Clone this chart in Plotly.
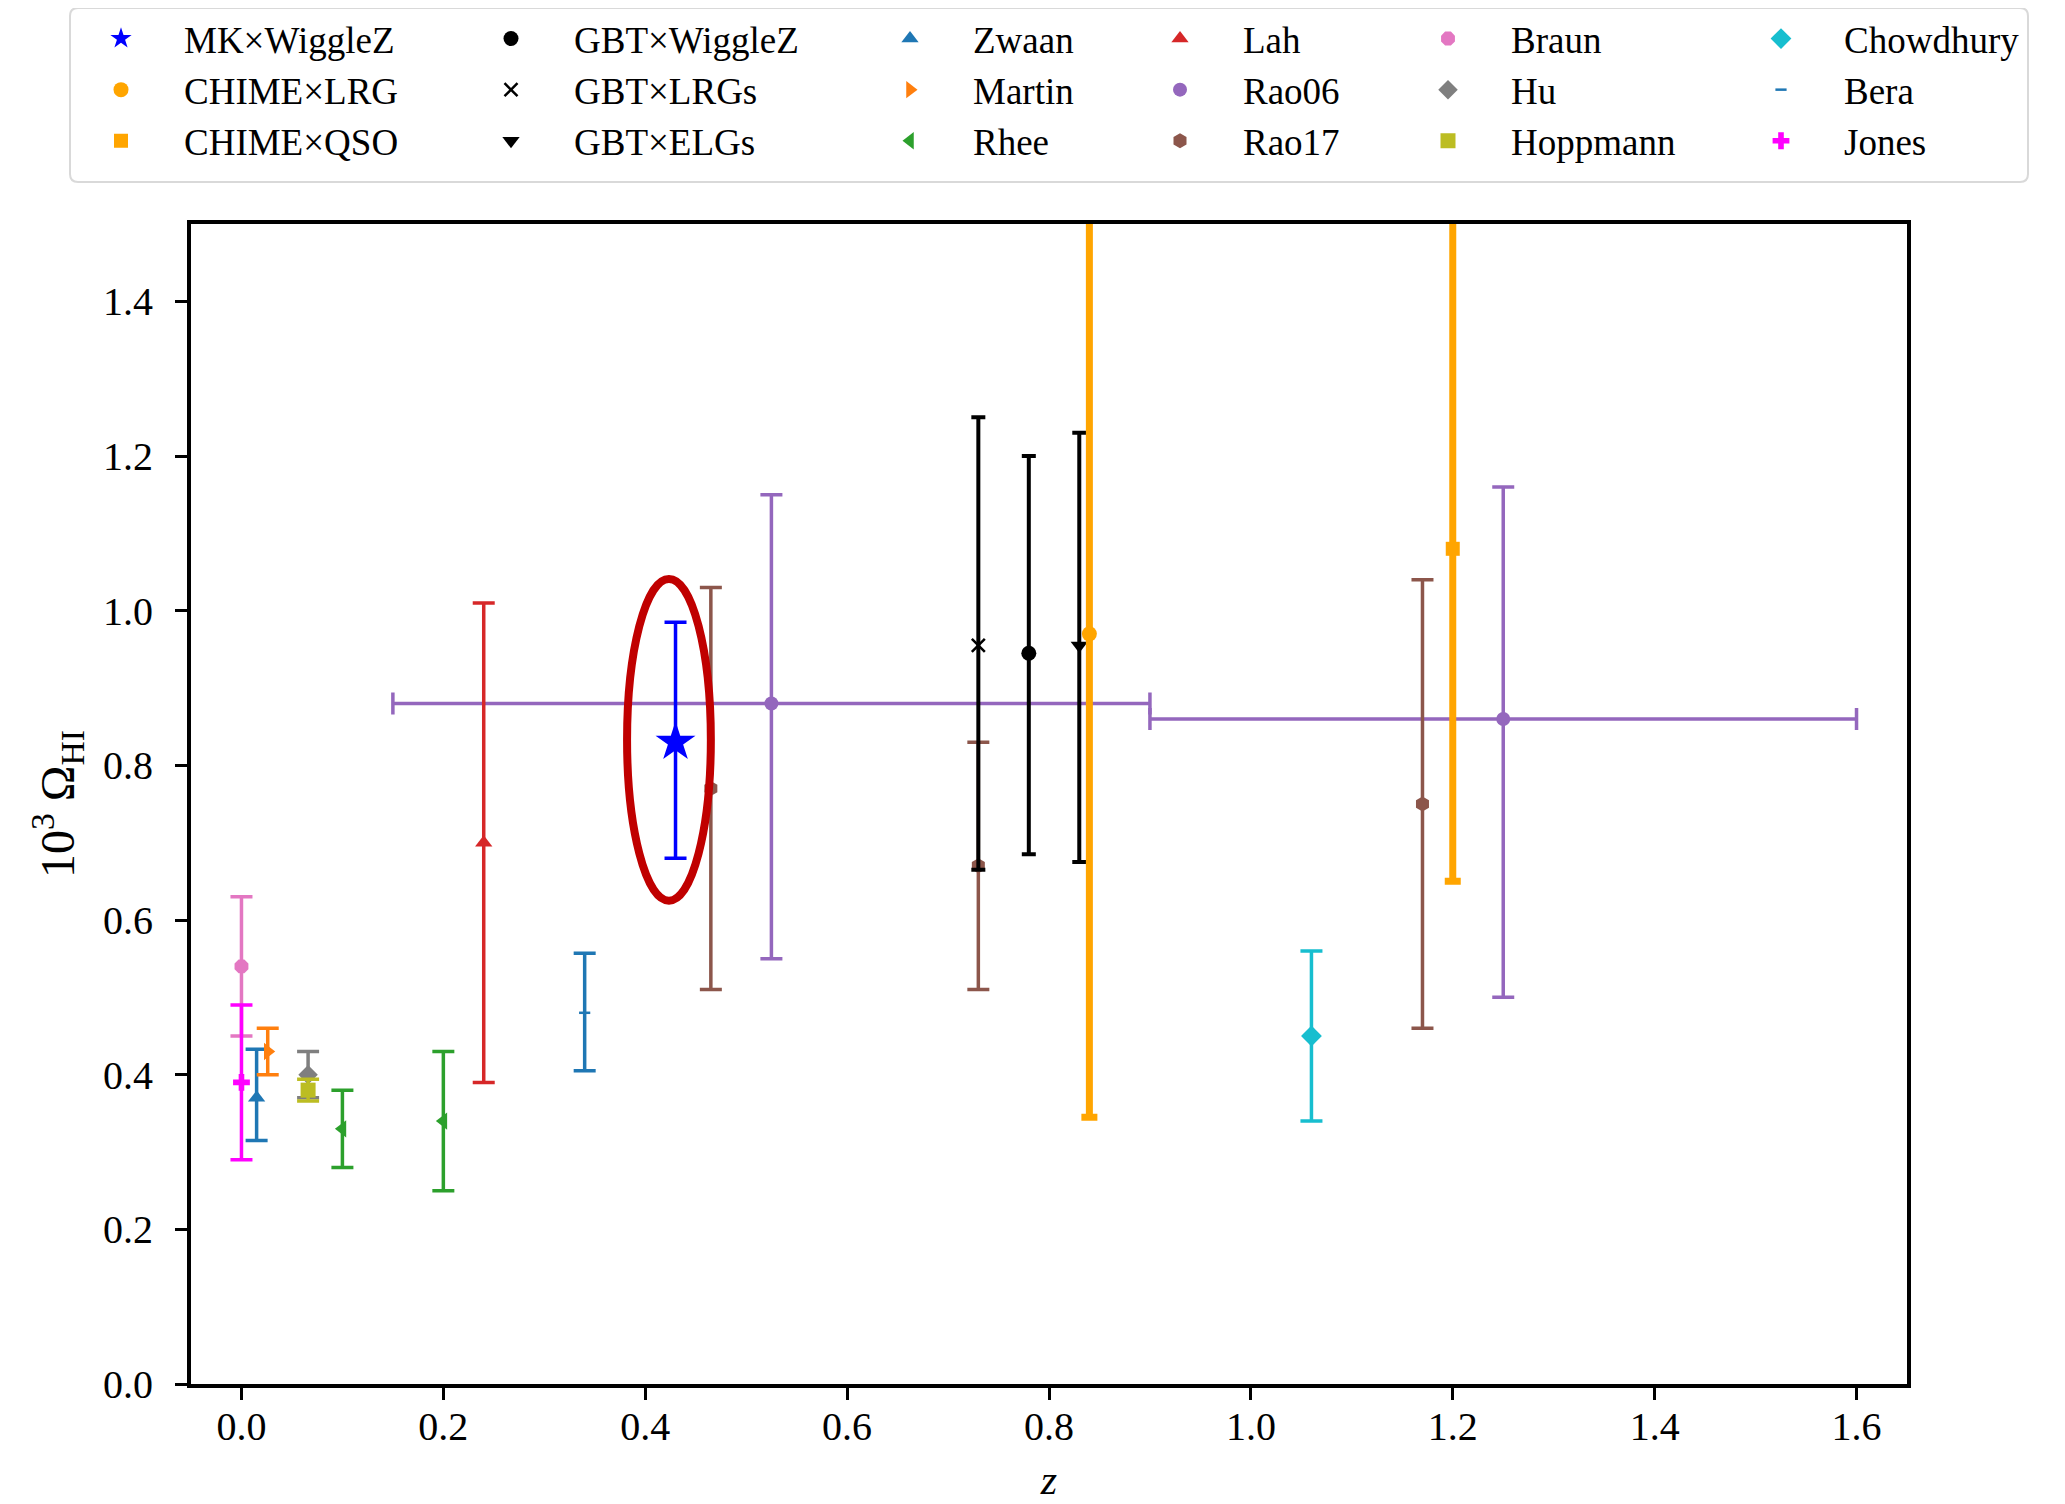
import plotly.graph_objects as go

# ---------------- data ----------------
mk_z = [0.43];  mk_y = [0.83];  mk_up = [0.155]; mk_dn = [0.15]
chime_lrg_z = [0.84]; chime_lrg_y = [0.97]; chime_lrg_up = [0.80]; chime_lrg_dn = [0.625]
chime_qso_z = [1.20]; chime_qso_y = [1.08]; chime_qso_up = [0.60]; chime_qso_dn = [0.43]
gbt_wigglez_z = [0.78]; gbt_wigglez_y = [0.945]; gbt_wigglez_up = [0.255]; gbt_wigglez_dn = [0.26]
gbt_lrg_z = [0.73]; gbt_lrg_y = [0.955]; gbt_lrg_up = [0.295]; gbt_lrg_dn = [0.29]
gbt_elg_z = [0.83]; gbt_elg_y = [0.955]; gbt_elg_up = [0.275]; gbt_elg_dn = [0.28]
zwaan_z = [0.015]; zwaan_y = [0.37]; zwaan_up = [0.063]; zwaan_dn = [0.055]
martin_z = [0.026]; martin_y = [0.43]; martin_up = [0.03]; martin_dn = [0.03]
rhee_z = [0.10, 0.20]; rhee_y = [0.33, 0.34]; rhee_up = [0.05, 0.09]; rhee_dn = [0.05, 0.09]
lah_z = [0.24]; lah_y = [0.70]; lah_up = [0.31]; lah_dn = [0.31]
rao06_z = [0.525, 1.25]; rao06_y = [0.88, 0.86]; rao06_up = [0.27, 0.30]; rao06_dn = [0.33, 0.36]
rao06_zerr = [0.375, 0.35]
rao17_z = [0.465, 0.73, 1.17]; rao17_y = [0.77, 0.67, 0.75]
rao17_up = [0.26, 0.16, 0.29]; rao17_dn = [0.26, 0.16, 0.29]
braun_z = [0.0]; braun_y = [0.54]; braun_up = [0.09]; braun_dn = [0.09]
hu_z = [0.066]; hu_y = [0.40]; hu_up = [0.03]; hu_dn = [0.03]
hoppmann_z = [0.066]; hoppmann_y = [0.38]; hoppmann_up = [0.014]; hoppmann_dn = [0.014]
chowdhury_z = [1.06]; chowdhury_y = [0.45]; chowdhury_up = [0.11]; chowdhury_dn = [0.11]
bera_z = [0.34]; bera_y = [0.48]; bera_up = [0.077]; bera_dn = [0.075]
jones_z = [0.0]; jones_y = [0.39]; jones_up = [0.10]; jones_dn = [0.10]

x_ticks = [0.0, 0.2, 0.4, 0.6, 0.8, 1.0, 1.2, 1.4, 1.6]
y_ticks = [0.0, 0.2, 0.4, 0.6, 0.8, 1.0, 1.2, 1.4]
x_range = [-0.05, 1.65]
y_range = [0.0, 1.5]

# highlight ellipse around the MK x WiggleZ point (data coords)
ellipse_z = [0.382, 0.465]
ellipse_y = [0.625, 1.041]

FONT = "Liberation Serif"

# ---------------- figure ----------------
fig = go.Figure()

def add(name, z, y, up, dn, color, symbol, size, legend, lw=3.5, cap=11,
        zerr=None, mline=None):
    marker = dict(color=color, symbol=symbol, size=size)
    if mline:
        marker["line"] = dict(color=color, width=mline)
    kw = {}
    if zerr is not None:
        kw["error_x"] = dict(type="data", array=zerr, color=color,
                             thickness=lw, width=cap)
    fig.add_trace(go.Scatter(
        x=z, y=y, mode="markers", name=name, marker=marker,
        error_y=dict(type="data", symmetric=False, array=up, arrayminus=dn,
                     color=color, thickness=lw, width=cap),
        legend=legend, **kw))

add("Rao06", rao06_z, rao06_y, rao06_up, rao06_dn, "#9467bd", "circle", 14, "legend4", zerr=rao06_zerr)
add("Zwaan", zwaan_z, zwaan_y, zwaan_up, zwaan_dn, "#1f77b4", "triangle-up", 15, "legend3")
add("Martin", martin_z, martin_y, martin_up, martin_dn, "#ff7f0e", "triangle-right", 15, "legend3")
add("Rhee", rhee_z, rhee_y, rhee_up, rhee_dn, "#2ca02c", "triangle-left", 15, "legend3")
add("Lah", lah_z, lah_y, lah_up, lah_dn, "#d62728", "triangle-up", 15, "legend4")
add("Rao17", rao17_z, rao17_y, rao17_up, rao17_dn, "#8c564b", "hexagon", 15, "legend4")
add("Braun", braun_z, braun_y, braun_up, braun_dn, "#e377c2", "octagon", 15, "legend5")
add("Hu", hu_z, hu_y, hu_up, hu_dn, "#7f7f7f", "diamond", 15, "legend5")
add("Hoppmann", hoppmann_z, hoppmann_y, hoppmann_up, hoppmann_dn, "#bcbd22", "square", 15, "legend5")
add("Chowdhury", chowdhury_z, chowdhury_y, chowdhury_up, chowdhury_dn, "#17becf", "diamond", 16, "legend6")
add("Bera", bera_z, bera_y, bera_up, bera_dn, "#1f77b4", "line-ew", 8, "legend6", mline=2.5)
add("Jones", jones_z, jones_y, jones_up, jones_dn, "#ff00ff", "cross", 14, "legend6")
add("GBT×WiggleZ", gbt_wigglez_z, gbt_wigglez_y, gbt_wigglez_up, gbt_wigglez_dn, "black", "circle", 15, "legend2", lw=4, cap=7)
add("GBT×LRGs", gbt_lrg_z, gbt_lrg_y, gbt_lrg_up, gbt_lrg_dn, "black", "x-thin", 13, "legend2", lw=4, cap=7, mline=2.5)
add("GBT×ELGs", gbt_elg_z, gbt_elg_y, gbt_elg_up, gbt_elg_dn, "black", "triangle-down", 15, "legend2", lw=4, cap=7)
add("CHIME×LRG", chime_lrg_z, chime_lrg_y, chime_lrg_up, chime_lrg_dn, "#ffa500", "circle", 15, "legend", lw=7, cap=8)
add("CHIME×QSO", chime_qso_z, chime_qso_y, chime_qso_up, chime_qso_dn, "#ffa500", "square", 14, "legend", lw=7, cap=8)
add("MK×WiggleZ", mk_z, mk_y, mk_up, mk_dn, "#0000ff", "star", 30, "legend", lw=3.5, cap=11)

# legend ordering within each column
order = {
    "legend": ["MK×WiggleZ", "CHIME×LRG", "CHIME×QSO"],
    "legend2": ["GBT×WiggleZ", "GBT×LRGs", "GBT×ELGs"],
    "legend3": ["Zwaan", "Martin", "Rhee"],
    "legend4": ["Lah", "Rao06", "Rao17"],
    "legend5": ["Braun", "Hu", "Hoppmann"],
    "legend6": ["Chowdhury", "Bera", "Jones"],
}
for lg, names in order.items():
    for i, n in enumerate(names):
        for tr in fig.data:
            if tr.name == n:
                tr.legendrank = 1000 + i

# ---------------- layout geometry (pixels, window coords) ----------------
OFF = 8                      # default page body margin
W, H = 2065 - OFF, 1504 - OFF
L, R, T, B = 191, 1907, 224, 1384   # plot frame in window pixels
pw, ph = R - L, B - T

def px(xp):
    return (xp - L) / pw

def py(yp):
    return (B - yp) / ph

text_starts = [184, 574, 973, 1243, 1511, 1844]
legend_keys = ["legend", "legend2", "legend3", "legend4", "legend5", "legend6"]
legend_cfg = {}
for key, ts in zip(legend_keys, text_starts):
    legend_cfg[key] = dict(
        x=px(ts - 126), y=py(8), xanchor="left", yanchor="top",
        orientation="v", bgcolor="rgba(0,0,0,0)", borderwidth=0,
        font=dict(family=FONT, size=37, color="black"),
        traceorder="normal", itemsizing="trace", itemwidth=116,
    )

# rounded legend frame
fx0, fx1, fy0, fy1, rr = 70, 2028, 8, 182, 8
path = (f"M {px(fx0 + rr)} {py(fy0)} L {px(fx1 - rr)} {py(fy0)} "
        f"Q {px(fx1)} {py(fy0)} {px(fx1)} {py(fy0 + rr)} "
        f"L {px(fx1)} {py(fy1 - rr)} Q {px(fx1)} {py(fy1)} {px(fx1 - rr)} {py(fy1)} "
        f"L {px(fx0 + rr)} {py(fy1)} Q {px(fx0)} {py(fy1)} {px(fx0)} {py(fy1 - rr)} "
        f"L {px(fx0)} {py(fy0 + rr)} Q {px(fx0)} {py(fy0)} {px(fx0 + rr)} {py(fy0)} Z")

fig.update_layout(
    width=W, height=H,
    margin=dict(l=L - OFF, r=W - (R - OFF), t=T - OFF, b=H - (B - OFF), pad=0, autoexpand=False),
    paper_bgcolor="white", plot_bgcolor="white",
    font=dict(family=FONT, color="black"),
    showlegend=True,
    **legend_cfg,
    shapes=[
        dict(type="path", xref="paper", yref="paper", path=path,
             line=dict(color="#d9d9d9", width=2), fillcolor="rgba(255,255,255,0)",
             layer="below"),
        dict(type="circle", xref="x", yref="y",
             x0=ellipse_z[0], x1=ellipse_z[1], y0=ellipse_y[0], y1=ellipse_y[1],
             line=dict(color="#c00000", width=8)),
    ],
)

fig.update_xaxes(
    range=x_range, tickvals=x_ticks, ticktext=[f"{v:.1f}" for v in x_ticks],
    showgrid=False, zeroline=False, showline=True, linecolor="black", linewidth=4,
    mirror=True, ticks="outside", ticklen=12, tickwidth=3, tickcolor="black",
    tickfont=dict(family=FONT, size=40, color="black"), ticklabelstandoff=-8,
    title=dict(text="<i>z</i>", font=dict(family=FONT, size=42, color="black"), standoff=18),
)
fig.update_yaxes(
    range=y_range, tickvals=y_ticks, ticktext=[f"{v:.1f}" for v in y_ticks],
    showgrid=False, zeroline=False, showline=True, linecolor="black", linewidth=4,
    mirror=True, ticks="outside", ticklen=12, tickwidth=3, tickcolor="black",
    tickfont=dict(family=FONT, size=40, color="black"), ticklabelstandoff=14,
    title=dict(text="10<sup>3</sup> Ω<sub>HI</sub>", font=dict(family=FONT, size=48, color="black"),
               standoff=14),
)

fig.write_html("out.html")
